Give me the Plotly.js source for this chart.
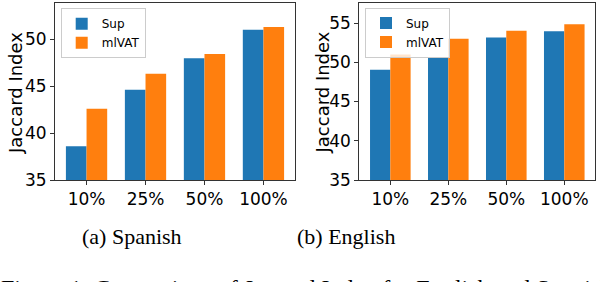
<!DOCTYPE html>
<html>
<head>
<meta charset="utf-8">
<script src="https://cdn.plot.ly/plotly-3.0.1.min.js"></script>
<style>html,body{margin:0;padding:0;background:#fff;}#chart{width:600px;height:282px;}</style>
</head>
<body>
<div id="chart"></div>
<script>
const categories = ['10%', '25%', '50%', '100%'];
const seriesNames = ['Sup', 'mlVAT'];
const spanishSup = [38.6, 44.65, 48.0, 51.05];
const spanishMlvat = [42.6, 46.35, 48.45, 51.35];
const englishSup = [49.05, 50.65, 53.15, 53.95];
const englishMlvat = [51.0, 53.0, 54.0, 54.85];
const panelCaptions = ['(a) Spanish', '(b) English'];
const yTitle = 'Jaccard Index';
const figureCaption = 'Figure 1: Comparison of Jaccard Index for English and Spanish';

const W = 600, H = 282;
const px = v => v / W;
const py = v => (H - v) / H;
const colors = ['#1f77b4', '#ff7f0e'];
const font = 'DejaVu Sans, sans-serif';

function bar(y, name, color, xa, ya, legend) {
  return {type: 'bar', x: categories, y: y, name: name, xaxis: xa, yaxis: ya,
    legend: legend, marker: {color: color, line: {width: 0}}, showlegend: true};
}

const data = [
  bar(spanishSup, seriesNames[0], colors[0], 'x', 'y', 'legend'),
  bar(spanishMlvat, seriesNames[1], colors[1], 'x', 'y', 'legend'),
  bar(englishSup, seriesNames[0], colors[0], 'x2', 'y2', 'legend2'),
  bar(englishMlvat, seriesNames[1], colors[1], 'x2', 'y2', 'legend2')
];

const axisCommon = {showline: true, mirror: true, linecolor: '#333', linewidth: 1,
  showgrid: false, zeroline: false, ticks: 'outside', ticklen: 4, tickcolor: '#333',
  tickfont: {family: font, size: 17, color: '#000'}, fixedrange: true};

const legendCommon = {bgcolor: 'rgba(255,255,255,0.8)', bordercolor: '#ccc', borderwidth: 1,
  font: {family: font, size: 12, color: '#000'}, xanchor: 'left', yanchor: 'top',
  tracegroupgap: 0, itemwidth: 30};

const layout = {
  width: W, height: H,
  margin: {l: 0, r: 0, t: 0, b: 0},
  paper_bgcolor: '#fff', plot_bgcolor: '#fff',
  barmode: 'group', bargap: 0.3, bargroupgap: 0,
  xaxis: Object.assign({}, axisCommon, {type: 'category', domain: [px(55), px(295)], anchor: 'y', range: [-0.535, 3.535]}),
  yaxis: Object.assign({}, axisCommon, {domain: [py(180), py(3)], anchor: 'x', range: [35, 53.9], dtick: 5, tick0: 35}),
  xaxis2: Object.assign({}, axisCommon, {type: 'category', domain: [px(359.3), px(595.3)], anchor: 'y2', range: [-0.535, 3.535]}),
  yaxis2: Object.assign({}, axisCommon, {domain: [py(180), py(3)], anchor: 'x2', range: [35, 57.55], dtick: 5, tick0: 35}),
  legend: Object.assign({}, legendCommon, {x: px(60.7), y: py(8.3)}),
  legend2: Object.assign({}, legendCommon, {x: px(365), y: py(7.5)}),
  annotations: [
    {text: yTitle, xref: 'paper', yref: 'paper', x: px(15), y: py(93), textangle: -90,
     showarrow: false, xanchor: 'center', yanchor: 'middle', font: {family: font, size: 18, color: '#000'}},
    {text: yTitle, xref: 'paper', yref: 'paper', x: px(321.5), y: py(93), textangle: -90,
     showarrow: false, xanchor: 'center', yanchor: 'middle', font: {family: font, size: 18, color: '#000'}},
    {text: panelCaptions[0], xref: 'paper', yref: 'paper', x: px(132), y: py(236),
     showarrow: false, xanchor: 'center', yanchor: 'middle', font: {family: 'Liberation Serif, serif', size: 22, color: '#000'}},
    {text: panelCaptions[1], xref: 'paper', yref: 'paper', x: px(346), y: py(236),
     showarrow: false, xanchor: 'center', yanchor: 'middle', font: {family: 'Liberation Serif, serif', size: 22, color: '#000'}},
    {text: figureCaption, xref: 'paper', yref: 'paper', x: px(-1), y: py(288),
     showarrow: false, xanchor: 'left', yanchor: 'middle', font: {family: 'Liberation Serif, serif', size: 24, color: '#000'}}
  ]
};

Plotly.newPlot('chart', data, layout, {displayModeBar: false, staticPlot: true});
</script>
</body>
</html>
